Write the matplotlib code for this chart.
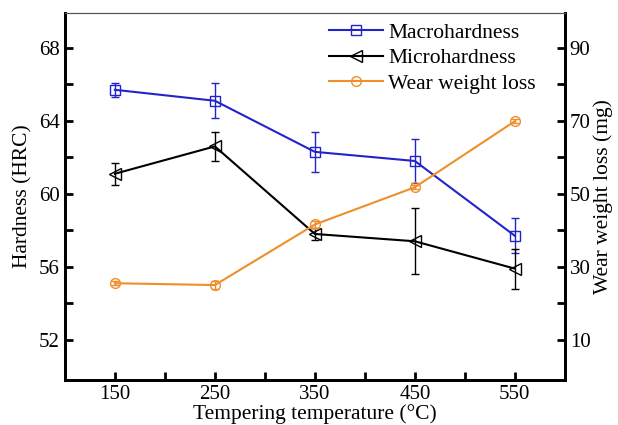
import matplotlib.pyplot as plt
from matplotlib.lines import Line2D

temps = [150, 250, 350, 450, 550]
macro = [65.7, 65.1, 62.3, 61.8, 57.7]
macro_err = [0.4, 0.95, 1.1, 1.2, 0.95]
micro = [61.1, 62.6, 57.8, 57.4, 55.9]
micro_err = [0.6, 0.8, 0.35, 1.8, 1.1]
wear = [25.5, 25.0, 41.6, 51.8, 69.9]
wear_err = [0.5, 1.0, 1.0, 0.5, 0.5]

blue = '#2323cc'
orange = '#ef8f2a'

plt.rcParams['font.family'] = ['Liberation Serif', 'DejaVu Serif']

fig = plt.figure(figsize=(6.18, 4.25), dpi=100)
ax = fig.add_axes([0.105, 0.106, 0.809, 0.863])
ax2 = ax.twinx()

# courbes avec barres d'erreur
ax.errorbar(temps, macro, yerr=macro_err, color=blue, marker='s', mfc='none',
            ms=7, lw=1.5, capsize=3, elinewidth=1)
ax.errorbar(temps, micro, yerr=micro_err, color='black', marker='<', mfc='none',
            ms=9, lw=1.5, capsize=3, elinewidth=1)
ax2.errorbar(temps, wear, yerr=wear_err, color=orange, marker='o', mfc='none',
             ms=7, lw=1.5, capsize=3, elinewidth=1)

ax.set_xlim(100, 600)
ax.set_ylim(49.8, 69.9)
ax2.set_ylim(-1, 99.5)

ax.set_xticks(temps)
ax.set_xticks([200, 300, 400, 500], minor=True)
ax.set_yticks([52, 56, 60, 64, 68])
ax.set_yticks([54, 58, 62, 66], minor=True)
ax2.set_yticks([10, 30, 50, 70, 90])
ax2.set_yticks([20, 40, 60, 80], minor=True)

for a in (ax, ax2):
    a.tick_params(direction='in', which='both', width=2, length=6, labelsize=15)
    for s in ('left', 'bottom', 'right'):
        a.spines[s].set_linewidth(2)
    a.spines['top'].set_linewidth(0.8)
    a.spines['top'].set_color('#555555')
ax.tick_params(top=False, right=False)
ax2.tick_params(top=False)

ax.set_xlabel('Tempering temperature (°C)', fontsize=15.5, labelpad=0)
ax.set_ylabel('Hardness (HRC)', fontsize=15.5, labelpad=5)
ax2.set_ylabel('Wear weight loss (mg)', fontsize=15.5, labelpad=2)

# légende sans barres d'erreur
handles = [
    Line2D([], [], color=blue, marker='s', mfc='none', ms=7, lw=1.5),
    Line2D([], [], color='black', marker='<', mfc='none', ms=9, lw=1.5),
    Line2D([], [], color=orange, marker='o', mfc='none', ms=7, lw=1.5),
]
ax.legend(handles, ['Macrohardness', 'Microhardness', 'Wear weight loss'],
          loc='upper right', bbox_to_anchor=(0.972, 1.015), frameon=False, fontsize=15.5,
          handlelength=2.5, labelspacing=0.25, handletextpad=0.25, borderaxespad=0.3)

fig.savefig('out.png', dpi=100)
